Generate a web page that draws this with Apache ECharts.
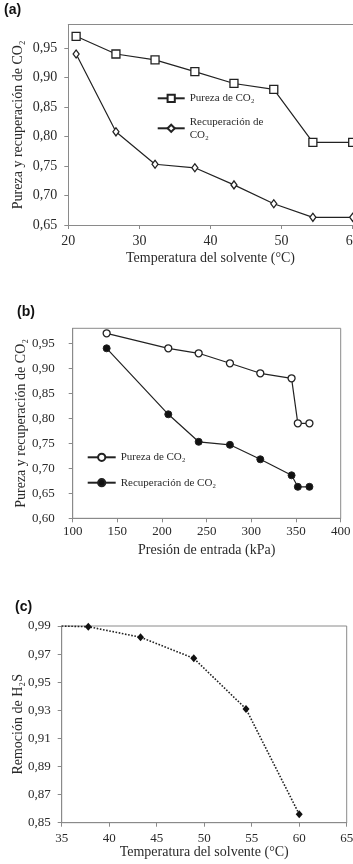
<!DOCTYPE html>
<html>
<head>
<meta charset="utf-8">
<script src="https://cdn.jsdelivr.net/npm/echarts@6/dist/echarts.min.js"></script>
<style>
html,body{margin:0;padding:0;background:#fff;overflow:hidden;}
#chart{width:400px;height:864px;}
</style>
</head>
<body>
<div id="chart"></div>
<script>
// Panel (a): temperature vs purity / recovery
const tempA = [21.1, 26.7, 32.2, 37.8, 43.3, 48.9, 54.4, 60.0];
const purezaA = [0.97, 0.94, 0.93, 0.91, 0.89, 0.88, 0.79, 0.79];
const recupA = [0.94, 0.808, 0.753, 0.747, 0.718, 0.686, 0.663, 0.663];
const yTicksA = [0.65, 0.70, 0.75, 0.80, 0.85, 0.90, 0.95];

// Panel (b): inlet pressure vs purity / recovery
const presB = [138, 207, 241, 276, 310, 345, 352, 365];
const purezaB = [0.97, 0.94, 0.93, 0.91, 0.89, 0.88, 0.79, 0.79];
const recupB = [0.94, 0.808, 0.753, 0.747, 0.718, 0.686, 0.663, 0.663];
const yTicksB = [0.60, 0.65, 0.70, 0.75, 0.80, 0.85, 0.90, 0.95];

// Panel (c): temperature vs H2S removal
const tempC = [35, 37.8, 43.3, 48.9, 54.4, 60.0];
const remocionC = [0.99, 0.9895, 0.982, 0.967, 0.931, 0.856];
const yTicksC = [0.85, 0.87, 0.89, 0.91, 0.93, 0.95, 0.97, 0.99];

const SERIF = 'Liberation Serif';
const SANS = 'Liberation Sans';
const AX = '#8a8a8a';
const TXT = '#2a2a2a';
const LINE = '#222';
const comma = v => v.toFixed(2).replace('.', ',');
const zip = (xs, ys) => xs.map((x, i) => [x, ys[i]]);

const chart = echarts.init(document.getElementById('chart'), null, {renderer: 'canvas'});

function xAxisBase(gi, min, max, interval, name, labelSize, nameGap, labelMargin) {
  return {
    type: 'value', gridIndex: gi, min: min, max: max, interval: interval,
    name: name, nameLocation: 'middle', nameGap: nameGap, nameMoveOverlap: false,
    nameTextStyle: {fontFamily: SERIF, fontSize: 14, color: TXT},
    axisLine: {show: true, lineStyle: {color: AX, width: 1}},
    axisTick: {show: true, inside: false, length: 4, lineStyle: {color: AX}},
    axisLabel: {fontFamily: SERIF, fontSize: labelSize, color: TXT, margin: labelMargin, hideOverlap: false},
    splitLine: {show: false}
  };
}
function yAxisBase(gi, min, max, ticks, name, labelSize, nameGap, labelMargin) {
  return {
    type: 'value', gridIndex: gi, min: min, max: max,
    name: name, nameLocation: 'middle', nameGap: nameGap, nameMoveOverlap: false,
    nameTextStyle: {fontFamily: SERIF, fontSize: 14, color: TXT},
    axisLine: {show: true, lineStyle: {color: AX, width: 1}},
    axisTick: {show: true, inside: false, length: 4, lineStyle: {color: AX}, customValues: ticks},
    axisLabel: {fontFamily: SERIF, fontSize: labelSize, color: TXT, margin: labelMargin,
      customValues: ticks, formatter: comma},
    splitLine: {show: false}
  };
}

const option = {
  animation: false,
  backgroundColor: '#fff',
  title: [
    {text: '(a)', left: 4, top: 3, padding: 0, textStyle: {fontFamily: SANS, fontWeight: 'bold', fontSize: 14, color: '#111'}},
    {text: '(b)', left: 17, top: 305, padding: 0, textStyle: {fontFamily: SANS, fontWeight: 'bold', fontSize: 14, color: '#111'}},
    {text: '(c)', left: 15, top: 600, padding: 0, textStyle: {fontFamily: SANS, fontWeight: 'bold', fontSize: 14, color: '#111'}}
  ],
  grid: [
    {left: 68.3, top: 24.5, width: 284.4, height: 200.5, show: false},
    {left: 72.7, top: 328.3, width: 268, height: 190, show: true, borderColor: AX, borderWidth: 1},
    {left: 61.7, top: 626, width: 285, height: 196.7, show: true, borderColor: AX, borderWidth: 1}
  ],
  xAxis: [
    xAxisBase(0, 20, 60, 10, 'Temperatura del solvente (°C)', 14, 26, 9),
    xAxisBase(1, 100, 400, 50, 'Presión de entrada (kPa)', 13, 25, 7),
    xAxisBase(2, 35, 65, 5, 'Temperatura del solvente (°C)', 13, 23, 9),
    {type: 'value', gridIndex: 0, position: 'top', min: 20, max: 60,
      axisLine: {show: true, lineStyle: {color: AX, width: 1}},
      axisTick: {show: false}, axisLabel: {show: false}, splitLine: {show: false}}
  ],
  yAxis: [
    yAxisBase(0, 0.65, 0.99, yTicksA, 'Pureza y recuperación de CO₂', 14, 43, 11),
    yAxisBase(1, 0.60, 0.98, yTicksB, 'Pureza y recuperación de CO₂', 13, 44, 18),
    yAxisBase(2, 0.85, 0.99, yTicksC, 'Remoción de H₂S', 13, 36, 11)
  ],
  legend: [
    {
      left: 156.7, top: 91.8, padding: 0, orient: 'vertical', itemGap: 10.5,
      itemWidth: 27, itemHeight: 9,
      data: ['Pureza de CO₂', 'Recuperación de CO₂'],
      formatter: n => n === 'Recuperación de CO₂' ? 'Recuperación de\nCO₂' : n,
      textStyle: {fontFamily: SERIF, fontSize: 11, color: TXT, lineHeight: 13}
    },
    {
      left: 86.7, top: 450.8, padding: 0, orient: 'vertical', itemGap: 12.4,
      itemWidth: 28, itemHeight: 9,
      data: ['Pureza de CO₂ ', 'Recuperación de CO₂ '],
      textStyle: {fontFamily: SERIF, fontSize: 11, color: TXT, lineHeight: 13}
    }
  ],
  series: [
    {
      name: 'Pureza de CO₂', type: 'line', xAxisIndex: 0, yAxisIndex: 0,
      data: zip(tempA, purezaA), symbol: 'rect', symbolSize: 8,
      lineStyle: {color: LINE, width: 1.2},
      itemStyle: {color: '#fff', borderColor: LINE, borderWidth: 1.3}
    },
    {
      name: 'Recuperación de CO₂', type: 'line', xAxisIndex: 0, yAxisIndex: 0,
      data: zip(tempA, recupA), symbol: 'diamond', symbolSize: [6, 8],
      lineStyle: {color: LINE, width: 1.2},
      itemStyle: {color: '#fff', borderColor: LINE, borderWidth: 1.3}
    },
    {
      name: 'Pureza de CO₂ ', type: 'line', xAxisIndex: 1, yAxisIndex: 1,
      data: zip(presB, purezaB), symbol: 'circle', symbolSize: 7,
      lineStyle: {color: LINE, width: 1.2},
      itemStyle: {color: '#fff', borderColor: LINE, borderWidth: 1.3}
    },
    {
      name: 'Recuperación de CO₂ ', type: 'line', xAxisIndex: 1, yAxisIndex: 1,
      data: zip(presB, recupB), symbol: 'circle', symbolSize: 7,
      lineStyle: {color: LINE, width: 1.2},
      itemStyle: {color: '#111', borderColor: LINE, borderWidth: 1}
    },
    {
      name: 'Remoción de H₂S', type: 'line', xAxisIndex: 2, yAxisIndex: 2,
      data: zip(tempC, remocionC).map((p, i) => i === 0 ? {value: p, symbol: 'none'} : p),
      symbol: 'diamond', symbolSize: [7, 8],
      lineStyle: {color: LINE, width: 1.6, type: 'dotted'},
      itemStyle: {color: '#111'}
    }
  ]
};
chart.setOption(option);
</script>
</body>
</html>
